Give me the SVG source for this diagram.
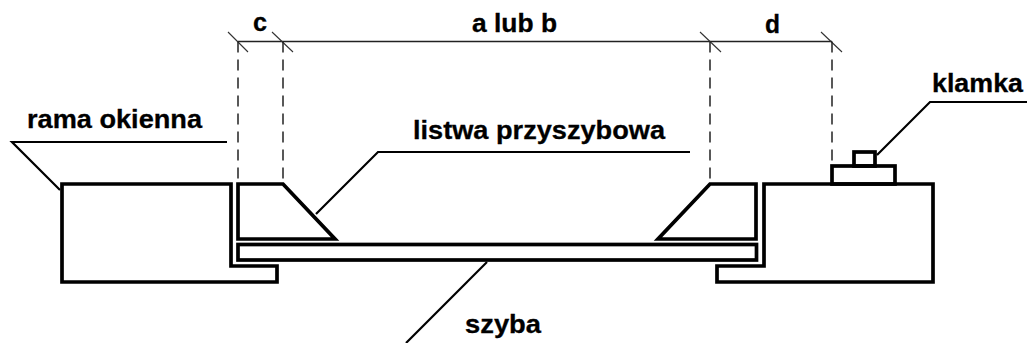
<svg xmlns="http://www.w3.org/2000/svg" width="1027" height="343" viewBox="0 0 1027 343">
<style>
.bg{fill:#fff}
.s{fill:none;stroke:#000;stroke-width:3.7;stroke-linejoin:miter}
.l{fill:none;stroke:#000;stroke-width:2.2}
.t{fill:none;stroke:#333;stroke-width:1.1}
.dim{fill:none;stroke:#222;stroke-width:1.5}
.d{fill:none;stroke:#222;stroke-width:1.5;stroke-dasharray:11 7}
text{font-family:"Liberation Sans",Arial,sans-serif;font-weight:700;font-size:25px;fill:#000;stroke:#000;stroke-width:.3}
</style>
<rect class="bg" width="1027" height="343"/>
<g id="connectors">
<path class="dim" d="M238 41.500H832"/>
<path class="t" d="M228 32L248 52M272 32L293 52M700 32L721 52M821 32L842 52"/>
<path class="d" d="M238 41.500V184M283 41.500V184M710 41.500V184M832 41.500V165"/>
<path class="l" d="M227 142H12L60 190"/>
<path class="l" d="M690 152H378L316 214"/>
<path class="l" d="M1027 102H930L877 155"/>
<path class="l" d="M487 262L406 343"/>
</g>
<g id="rama-lewa"><path class="s" d="M62 184H231V266H277V282H62Z"/></g>
<g id="rama-prawa"><path class="s" d="M764 184H933V282H717V266H764Z"/></g>
<g id="listwa-lewa"><path class="s" d="M238 184H283L335 239H238Z"/></g>
<g id="listwa-prawa"><path class="s" d="M710 184H756V239H658Z"/></g>
<g id="szyba"><rect class="s" x="238" y="244.500" width="518.500" height="15.500"/></g>
<g id="klamka"><rect class="s" x="832" y="166" width="63" height="18"/><rect class="s" x="854" y="152" width="21" height="14"/></g>
<g id="labels">
<text x="253" y="31" textLength="14" lengthAdjust="spacingAndGlyphs">c</text>
<text x="472" y="32" textLength="85" lengthAdjust="spacingAndGlyphs">a lub b</text>
<text x="765" y="33" textLength="15" lengthAdjust="spacingAndGlyphs">d</text>
<text x="27" y="128" textLength="175" lengthAdjust="spacingAndGlyphs">rama okienna</text>
<text x="413" y="139" textLength="252" lengthAdjust="spacingAndGlyphs">listwa przyszybowa</text>
<text x="932" y="92" textLength="91" lengthAdjust="spacingAndGlyphs">klamka</text>
<text x="465" y="333" textLength="76" lengthAdjust="spacingAndGlyphs">szyba</text>
</g>
</svg>
